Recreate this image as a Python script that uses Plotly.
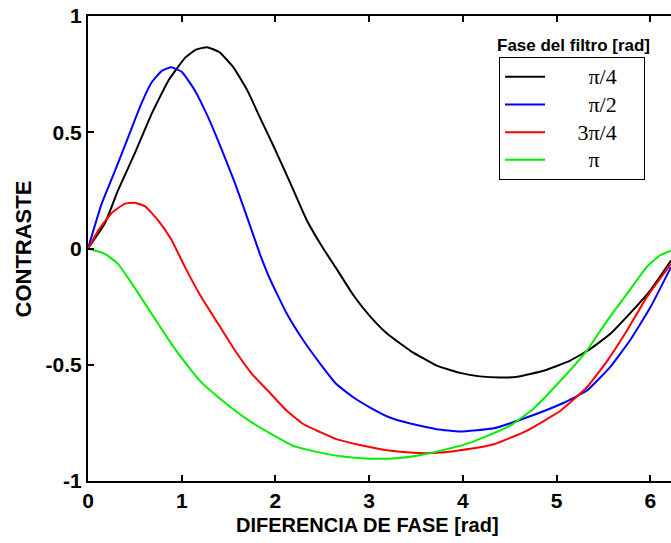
import plotly.graph_objects as go

# Data
x_pi4 = [0, 0.18, 0.32, 0.50, 0.68, 0.86, 1.035, 1.15, 1.27, 1.40, 1.55, 1.70, 1.85, 1.98, 2.16, 2.33, 2.51, 2.64, 2.83, 3.01, 3.19, 3.44, 3.72, 3.97, 4.18, 4.40, 4.58, 4.86, 5.14, 5.36, 5.57, 5.78, 6.0, 6.22]
y_pi4 = [0, 0.108, 0.25, 0.41, 0.58, 0.724, 0.82, 0.855, 0.866, 0.845, 0.78, 0.68, 0.55, 0.44, 0.28, 0.125, 0.0, -0.08, -0.2, -0.292, -0.366, -0.44, -0.504, -0.535, -0.55, -0.555, -0.552, -0.526, -0.483, -0.432, -0.368, -0.28, -0.18, -0.052]

x_pi2 = [0, 0.146, 0.29, 0.43, 0.57, 0.68, 0.79, 0.89, 1.0, 1.14, 1.28, 1.43, 1.57, 1.71, 1.835, 1.94, 2.12, 2.30, 2.48, 2.65, 2.83, 3.01, 3.22, 3.44, 3.72, 3.97, 4.33, 4.68, 5.04, 5.32, 5.57, 5.78, 6.0, 6.22]
y_pi2 = [0, 0.193, 0.336, 0.48, 0.624, 0.715, 0.765, 0.78, 0.76, 0.68, 0.566, 0.422, 0.279, 0.12, -0.025, -0.13, -0.28, -0.397, -0.497, -0.583, -0.64, -0.684, -0.727, -0.753, -0.777, -0.787, -0.773, -0.727, -0.67, -0.612, -0.51, -0.397, -0.253, -0.08]

x_3pi4 = [0, 0.11, 0.25, 0.395, 0.50, 0.61, 0.75, 0.89, 1.035, 1.21, 1.39, 1.57, 1.75, 1.92, 2.12, 2.30, 2.48, 2.65, 2.90, 3.19, 3.47, 3.72, 3.97, 4.33, 4.68, 5.04, 5.32, 5.54, 5.75, 5.96, 6.22]
y_3pi4 = [0, 0.078, 0.152, 0.193, 0.197, 0.181, 0.12, 0.038, -0.08, -0.21, -0.325, -0.44, -0.54, -0.612, -0.698, -0.756, -0.79, -0.82, -0.845, -0.868, -0.879, -0.879, -0.868, -0.842, -0.784, -0.698, -0.598, -0.483, -0.353, -0.21, -0.066]

x_pi = [0, 0.18, 0.32, 0.47, 0.61, 0.75, 0.89, 1.035, 1.21, 1.39, 1.57, 1.75, 1.92, 2.19, 2.48, 2.76, 3.01, 3.29, 3.54, 3.83, 4.08, 4.26, 4.50, 4.75, 5.04, 5.32, 5.54, 5.75, 5.96, 6.10, 6.22]
y_pi = [0, -0.023, -0.066, -0.152, -0.238, -0.325, -0.41, -0.49, -0.576, -0.64, -0.698, -0.749, -0.79, -0.849, -0.878, -0.897, -0.904, -0.902, -0.889, -0.863, -0.835, -0.806, -0.763, -0.69, -0.569, -0.44, -0.31, -0.195, -0.08, -0.03, -0.009]

series_labels = ["π/4", "π/2", "3π/4", "π"]
series_colors = ["#000000", "#0000ff", "#ff0000", "#00ee00"]
label_indent = [7, 7, 5, 7]

x_tickvals = [0, 1, 2, 3, 4, 5, 6]
x_ticktext = ["0", "1", "2", "3", "4", "5", "6"]
y_tickvals = [-1, -0.5, 0, 0.5, 1]
y_ticktext = ["-1", "-0.5", "0", "0.5", "1"]

NB = "\u00a0"
fig = go.Figure()
for xs, ys, lab, ind, col in zip([x_pi4, x_pi2, x_3pi4, x_pi], [y_pi4, y_pi2, y_3pi4, y_pi],
                                 series_labels, label_indent, series_colors):
    nm = '<span style="font-size:22px">' + NB * ind + lab + NB * 4 + "</span>"
    fig.add_trace(go.Scatter(x=xs, y=ys, mode="lines", name=nm,
                             line=dict(color=col, width=2, shape="spline", smoothing=0.4)))

tick_font = dict(family="Liberation Sans", size=21, color="black", weight="bold")
fig.update_layout(
    width=671, height=543,
    margin=dict(l=88, r=0, t=16, b=62),
    paper_bgcolor="white", plot_bgcolor="white",
    showlegend=True,
    legend=dict(x=0.705, y=0.912, xanchor="left", yanchor="top",
                bordercolor="black", borderwidth=1, bgcolor="white",
                font=dict(family="Liberation Serif", size=19, color="black"),
                itemwidth=40, tracegroupgap=0),
    annotations=[
        dict(text="Fase del filtro [rad]", xref="paper", yref="paper",
             x=0.832, y=0.937, xanchor="center", yanchor="middle", showarrow=False,
             font=dict(family="Liberation Sans", size=17, color="black", weight="bold")),
        dict(text="DIFERENCIA DE FASE [rad]", xref="paper", yref="paper",
             x=0.4786, y=-0.0946, xanchor="center", yanchor="middle", showarrow=False,
             font=dict(family="Liberation Sans", size=20, color="black", weight="bold")),
        dict(text="CONTRASTE", xref="paper", yref="paper", textangle=-90,
             x=-0.1098, y=0.5, xanchor="center", yanchor="middle", showarrow=False,
             font=dict(family="Liberation Sans", size=22, color="black", weight="bold")),
    ],
)
fig.update_xaxes(range=[0, 6.22], tickvals=x_tickvals, ticktext=x_ticktext,
                 ticks="inside", ticklen=6, tickwidth=2, tickcolor="black",
                 showline=True, linewidth=2, linecolor="black", mirror="ticks",
                 showgrid=False, zeroline=False, tickfont=tick_font)
fig.update_yaxes(range=[-1, 1], tickvals=y_tickvals, ticktext=y_ticktext,
                 ticks="inside", ticklen=6, tickwidth=2, tickcolor="black",
                 showline=True, linewidth=2, linecolor="black",
                 showgrid=False, zeroline=False, tickfont=tick_font)

fig.write_html("out.html")
